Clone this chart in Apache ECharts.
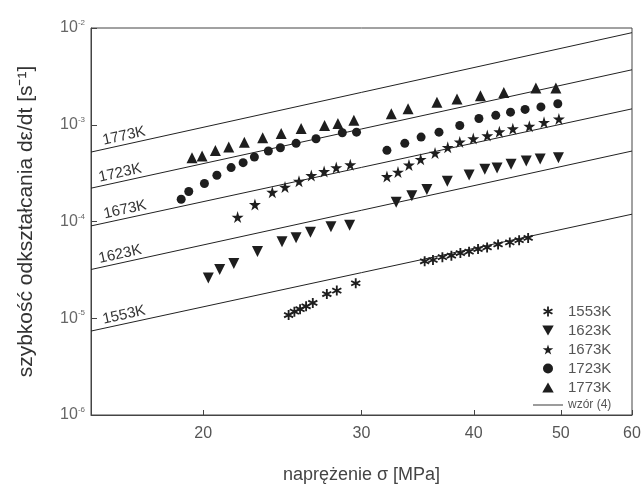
<!DOCTYPE html>
<html>
<head>
<meta charset="utf-8">
<script src="https://cdn.jsdelivr.net/npm/echarts@6/dist/echarts.min.js"></script>
<style>
html,body{margin:0;padding:0;background:#fff;}
#chart{width:644px;height:489px;}
</style>
</head>
<body>
<div id="chart"></div>
<script>
// ---- data (stress in MPa, strain rate in 1/s) ----
var xTicks = [20, 30, 40, 50, 60];

var sigma1553 = [24.89,25.26,25.63,26.03,26.48,27.45,28.16,29.56,35.27,36.03,36.91,37.77,38.65,39.52,40.44,41.39,42.57,43.87,44.93,45.98];
var rate1553  = [1.08e-5,1.17e-5,1.24e-5,1.33e-5,1.44e-5,1.78e-5,1.93e-5,2.30e-5,3.88e-5,4.00e-5,4.28e-5,4.43e-5,4.72e-5,4.88e-5,5.19e-5,5.39e-5,5.79e-5,6.08e-5,6.41e-5,6.76e-5];

var sigma1623 = [20.26,20.86,21.63,22.98,24.47,25.37,26.32,27.74,29.10,32.79,34.13,35.47,37.38,39.53,41.15,42.46,44.01,45.76,47.42,49.69];
var rate1623  = [2.61e-5,3.20e-5,3.68e-5,4.91e-5,6.18e-5,6.81e-5,7.74e-5,8.82e-5,9.12e-5,1.58e-4,1.85e-4,2.14e-4,2.61e-4,3.02e-4,3.47e-4,3.58e-4,3.90e-4,4.23e-4,4.43e-4,4.57e-4];

var sigma1673 = [21.84,22.83,23.87,24.66,25.56,26.38,27.26,28.12,29.15,32.02,32.94,33.88,34.91,36.22,37.42,38.59,39.95,41.41,42.71,44.21,46.12,47.89,49.75];
var rate1673  = [1.11e-4,1.50e-4,2.01e-4,2.27e-4,2.61e-4,2.99e-4,3.29e-4,3.61e-4,3.87e-4,2.92e-4,3.24e-4,3.84e-4,4.39e-4,5.10e-4,5.84e-4,6.65e-4,7.19e-4,7.72e-4,8.48e-4,9.11e-4,9.66e-4,1.06e-3,1.15e-3];

var sigma1723 = [18.90,19.27,20.06,20.71,21.48,22.15,22.80,23.63,24.37,25.37,26.70,28.56,29.62,32.02,33.52,34.95,36.59,38.59,40.53,42.32,43.95,45.62,47.51,49.61];
var rate1723  = [1.70e-4,2.04e-4,2.47e-4,3.01e-4,3.61e-4,4.06e-4,4.64e-4,5.35e-4,5.79e-4,6.42e-4,7.17e-4,8.27e-4,8.38e-4,5.44e-4,6.42e-4,7.45e-4,8.38e-4,9.82e-4,1.16e-3,1.25e-3,1.35e-3,1.44e-3,1.53e-3,1.65e-3];

var sigma1773 = [19.43,19.94,20.63,21.35,22.22,23.29,24.42,25.70,27.29,28.24,29.42,32.38,33.80,36.40,38.32,40.69,43.20,46.90,49.37];
var rate1773  = [4.57e-4,4.75e-4,5.43e-4,5.88e-4,6.61e-4,7.34e-4,8.13e-4,9.15e-4,9.82e-4,1.03e-3,1.11e-3,1.30e-3,1.46e-3,1.71e-3,1.85e-3,2.00e-3,2.16e-3,2.40e-3,2.40e-3];

// model lines "wzór (4)" : end points at sigma = 15 and 60 MPa
var fitSigma = [15, 60];
var fit1553 = [7.37e-6, 1.19e-4];
var fit1623 = [3.19e-5, 5.35e-4];
var fit1673 = [9.0e-5, 1.46e-3];
var fit1723 = [2.21e-4, 3.70e-3];
var fit1773 = [5.22e-4, 8.95e-3];

var temps = ['1553K','1623K','1673K','1723K','1773K'];
var lineName = 'wzór (4)';

// ---- styling ----
var FONT = 'Liberation Sans, Arial, Helvetica, sans-serif';
var INK = '#1e1e1e';
var SYM = {
  '1553K': 'path://M41,0L59,0L59,100L41,100Z M1,34.5L10,18.9L99,65.5L90,81.1Z M90,18.9L99,34.5L10,81.1L1,65.5Z',
  '1623K': 'path://M0,0L100,0L50,87Z',
  '1673K': 'path://M50,0L61,35L98,35L68,57L79,91L50,70L21,91L32,57L2,35L39,35Z',
  '1723K': 'circle',
  '1773K': 'path://M50,0L100,87L0,87Z'
};
var SIZE = {'1553K': 10, '1623K': 11, '1673K': 12, '1723K': 9, '1773K': 11};

function zip(xs, ys) { return xs.map(function (x, i) { return [x, ys[i]]; }); }

var scatterSets = {
  '1553K': zip(sigma1553, rate1553),
  '1623K': zip(sigma1623, rate1623),
  '1673K': zip(sigma1673, rate1673),
  '1723K': zip(sigma1723, rate1723),
  '1773K': zip(sigma1773, rate1773)
};
var fitSets = {
  '1553K': fit1553, '1623K': fit1623, '1673K': fit1673, '1723K': fit1723, '1773K': fit1773
};
var labelOffset = {'1553K': [14, -1], '1623K': [10, -1], '1673K': [15, -1], '1723K': [10, -1], '1773K': [14, -1]};

var series = [];
temps.forEach(function (t) {
  series.push({
    name: t,
    type: 'scatter',
    data: scatterSets[t],
    symbol: SYM[t],
    symbolSize: SIZE[t],
    itemStyle: { color: INK, opacity: 1 },
    z: 5
  });
});
temps.forEach(function (t) {
  var ys = fitSets[t];
  series.push({
    name: lineName,
    type: 'line',
    symbol: 'circle',
    symbolSize: 0,
    showSymbol: true,
    itemStyle: { color: '#222' },
    lineStyle: { color: '#222', width: 1 },
    data: [
      { value: [fitSigma[0], ys[0]],
        label: { show: true, formatter: t, position: [0, 0], align: 'left', verticalAlign: 'bottom',
                 rotate: 12.5, offset: labelOffset[t], color: '#333', fontSize: 15, fontFamily: FONT } },
      [fitSigma[1], ys[1]]
    ],
    z: 3
  });
});

var chart = echarts.init(document.getElementById('chart'), null, { renderer: 'canvas' });
chart.setOption({
  animation: false,
  backgroundColor: '#fff',
  textStyle: { fontFamily: FONT },
  grid: { left: 91, right: 12, top: 28, bottom: 72, show: true, borderColor: '#444', borderWidth: 1, backgroundColor: 'transparent' },
  legend: {
    orient: 'vertical',
    left: 533,
    top: 304,
    itemWidth: 30,
    itemHeight: 10,
    itemGap: 4,
    padding: 0,
    textStyle: { color: '#555', fontSize: 15, fontFamily: FONT, rich: { s: { fontSize: 12, color: '#555', fontFamily: FONT } } },
    formatter: function (n) { return n === lineName ? '{s|' + n + '}' : n; },
    data: temps.map(function (t) { return { name: t }; }).concat([{ name: lineName, icon: 'path://M0,0H100V3H0Z' }])
  },
  xAxis: {
    type: 'log',
    logBase: 10,
    min: 15,
    max: 60,
    name: 'naprężenie σ [MPa]',
    nameLocation: 'middle',
    nameGap: 51,
    nameTextStyle: { color: '#444', fontSize: 18, fontFamily: FONT },
    axisLine: { show: true, lineStyle: { color: '#444', width: 1 } },
    axisTick: { show: true, inside: true, length: 5, lineStyle: { color: '#444' }, customValues: xTicks },
    axisLabel: { show: true, color: '#555', fontSize: 16, margin: 11, customValues: xTicks, fontFamily: FONT },
    minorTick: { show: false },
    splitLine: { show: false }
  },
  yAxis: {
    type: 'log',
    logBase: 10,
    min: 1e-6,
    max: 1e-2,
    name: 'szybkość odkształcania dε/dt [s⁻¹]',
    nameLocation: 'middle',
    nameGap: 54,
    nameTextStyle: { color: '#333', fontSize: 21, fontFamily: FONT },
    axisLine: { show: true, lineStyle: { color: '#444', width: 1 } },
    axisTick: { show: true, inside: true, length: 6, lineStyle: { color: '#444' } },
    axisLabel: {
      color: '#666', fontSize: 16, margin: 6, fontFamily: FONT,
      showMinLabel: true, showMaxLabel: true,
      formatter: function (v) {
        var e = Math.round(Math.log10(v));
        return '{b|10}{s|' + e + '}';
      },
      rich: {
        b: { fontSize: 16, color: '#666', fontFamily: FONT },
        s: { fontSize: 8, color: '#666', fontFamily: FONT, padding: [0, 0, 10, 0] }
      }
    },
    splitLine: { show: false },
    minorTick: { show: false }
  },
  series: series
});
</script>
</body>
</html>
